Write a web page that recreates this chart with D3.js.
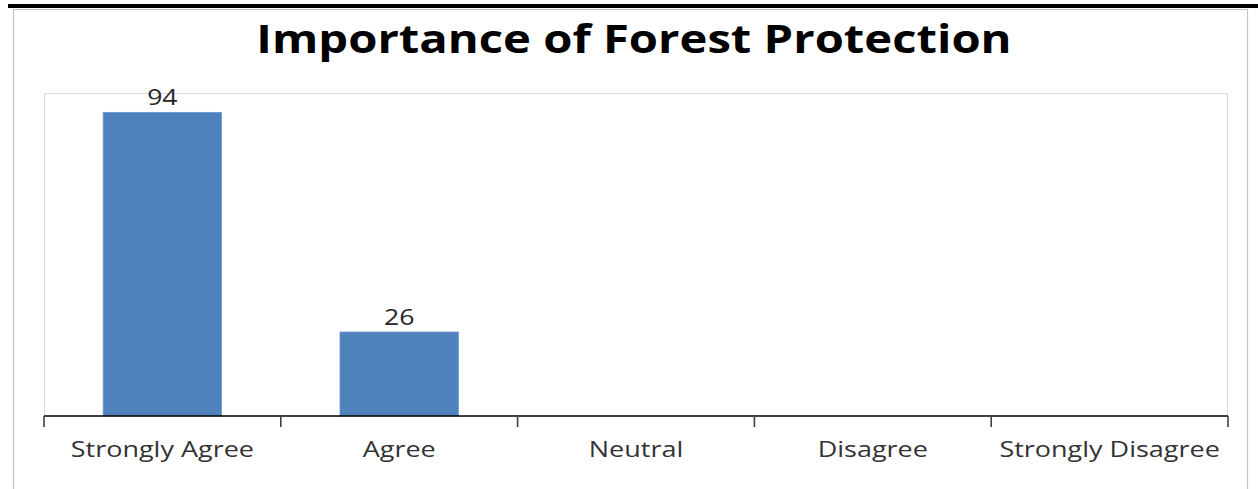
<!DOCTYPE html>
<html>
<head>
<meta charset="utf-8">
<script src="https://cdn.jsdelivr.net/npm/d3@7"></script>
<style>
  html, body { margin: 0; padding: 0; background: #fff; }
  svg { display: block; }
</style>
</head>
<body>
<svg id="chart" width="1258" height="489"></svg>
<script>
// Survey responses: importance of forest protection
const categories = ["Strongly Agree", "Agree", "Neutral", "Disagree", "Strongly Disagree"];
const counts = [94, 26, 0, 0, 0];
const chartTitle = "Importance of Forest Protection";

const W = 1258, H = 489;
const plot = { left: 44, right: 1228, top: 93, bottom: 416 };
const FONT = "'Open Sans', 'Liberation Sans', sans-serif";
const SX = 1.21; // horizontal stretch applied to text

const svg = d3.select("#chart");

// page rule above the chart frame
svg.append("rect").attr("x", 8).attr("y", 4).attr("width", W - 8).attr("height", 4).attr("fill", "#000");

// chart frame
svg.append("path")
  .attr("d", `M13.5,${H} V9.5 H1247.5 V${H}`)
  .attr("fill", "none").attr("stroke", "#c4c4c4").attr("stroke-width", 1.2);

const x = d3.scaleBand().domain(categories).range([plot.left, plot.right]).paddingInner(0.5).paddingOuter(0.25);
const y = d3.scaleLinear().domain([0, 100]).range([plot.bottom, plot.top]);

// plot area border
svg.append("path")
  .attr("d", `M${plot.left + 0.5},${plot.bottom} V${plot.top + 0.5} H${plot.right - 0.5} V${plot.bottom}`)
  .attr("fill", "none").attr("stroke", "#d9d9d9").attr("stroke-width", 1);

function stretch(sel) {
  sel.each(function () {
    const len = this.getComputedTextLength();
    d3.select(this).attr("textLength", len * SX).attr("lengthAdjust", "spacingAndGlyphs");
  });
}

// title
svg.append("text")
  .attr("x", 634).attr("y", 53)
  .attr("text-anchor", "middle")
  .attr("font-family", FONT).attr("font-weight", 700).attr("font-size", 39)
  .attr("fill", "#000")
  .text(chartTitle)
  .call(stretch);

// bars
svg.append("g").selectAll("rect")
  .data(categories.map((c, i) => ({ c, v: counts[i] })).filter(d => d.v > 0))
  .join("rect")
  .attr("x", d => x(d.c))
  .attr("width", x.bandwidth())
  .attr("y", d => y(d.v))
  .attr("height", d => y(0) - y(d.v))
  .attr("fill", "#4f81bd")
  .attr("stroke", "#6a96cc").attr("stroke-width", 0.8);

// value labels
svg.append("g").selectAll("text")
  .data(categories.map((c, i) => ({ c, v: counts[i] })).filter(d => d.v > 0))
  .join("text")
  .attr("x", d => x(d.c) + x.bandwidth() / 2)
  .attr("y", d => y(d.v) - 7)
  .attr("text-anchor", "middle")
  .attr("font-family", FONT).attr("font-size", 22).attr("fill", "#262626")
  .text(d => d.v)
  .call(stretch);

// category axis with ticks at band boundaries
const step = (plot.right - plot.left) / categories.length;
const edges = d3.range(categories.length + 1).map(i => plot.left + i * step);
const axisG = svg.append("g");
axisG.append("line")
  .attr("x1", plot.left).attr("x2", plot.right)
  .attr("y1", plot.bottom).attr("y2", plot.bottom)
  .attr("stroke", "#000").attr("stroke-width", 1.6);
axisG.selectAll("line.tick").data(edges).join("line").attr("class", "tick")
  .attr("x1", d => d).attr("x2", d => d)
  .attr("y1", plot.bottom).attr("y2", plot.bottom + 11)
  .attr("stroke", "#404040").attr("stroke-width", 1.6);
axisG.selectAll("text").data(categories).join("text")
  .attr("x", d => x(d) + x.bandwidth() / 2)
  .attr("y", 457)
  .attr("text-anchor", "middle")
  .attr("font-family", FONT).attr("font-size", 22.3).attr("fill", "#333")
  .text(d => d)
  .call(stretch);
</script>
</body>
</html>
